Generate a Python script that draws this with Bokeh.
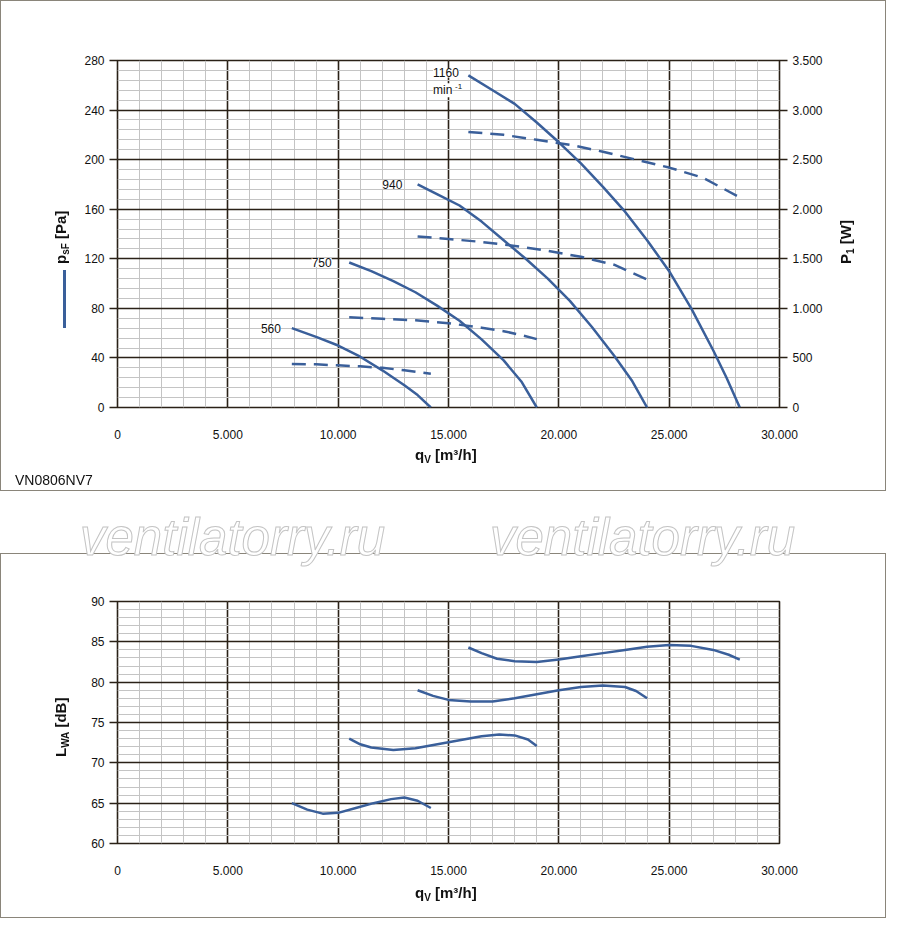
import numpy as np
from bokeh.plotting import figure
from bokeh.models import Range1d, LinearAxis, FixedTicker, Label, Div
from bokeh.layouts import column
from bokeh.embed import file_html
from bokeh.resources import INLINE

# ---- data ----
x_ticks = [0, 5000, 10000, 15000, 20000, 25000, 30000]
x_tick_labels = ["0", "5.000", "10.000", "15.000", "20.000", "25.000", "30.000"]
p_ticks = [0, 40, 80, 120, 160, 200, 240, 280]
w_ticks = [0, 500, 1000, 1500, 2000, 2500, 3000, 3500]
w_tick_labels = ["0", "500", "1.000", "1.500", "2.000", "2.500", "3.000", "3.500"]
db_ticks = [60, 65, 70, 75, 80, 85, 90]

speeds = ["560", "750", "940", "1160"]

p_q = {
    "560": [7900, 9000, 10000, 11000, 12000, 13000, 13600, 14200],
    "750": [10500, 11500, 12500, 13500, 14500, 15500, 16500, 17500, 18300, 19000],
    "940": [13600, 14500, 15500, 16500, 17500, 18500, 19500, 20500, 21500, 22500, 23300, 24000],
    "1160": [15900, 17000, 18000, 19000, 20000, 21000, 22000, 23000, 24000, 25000, 26000, 27000, 27600, 28200],
}
p_pa = {
    "560": [64, 57, 50, 41, 30, 18, 10, 0],
    "750": [117, 110, 102, 93, 82, 70, 55, 38, 21, 0],
    "940": [180, 172, 163, 150, 135, 120, 104, 86, 65, 42, 22, 0],
    "1160": [268, 256, 245, 230, 214, 197, 178, 158, 135, 110, 80, 46, 24, 0],
}
w_q = {
    "560": [7900, 9000, 10000, 11000, 12000, 13000, 14200],
    "750": [10500, 12000, 13500, 15000, 16500, 17500, 18300, 19000],
    "940": [13600, 15000, 16500, 18000, 19500, 21000, 22500, 24000],
    "1160": [15900, 17500, 19000, 20500, 22000, 23500, 25000, 26500, 28200],
}
w_w = {
    "560": [440, 435, 425, 415, 400, 375, 340],
    "750": [910, 895, 880, 850, 805, 770, 730, 690],
    "940": [1725, 1700, 1670, 1630, 1580, 1520, 1440, 1290],
    "1160": [2780, 2750, 2700, 2650, 2580, 2500, 2420, 2320, 2120],
}
db_q = {
    "560": [7900, 8600, 9300, 10000, 10800, 11600, 12400, 13000, 13600, 14200],
    "750": [10500, 11000, 11500, 12500, 13500, 14500, 15500, 16500, 17300, 18000, 18600, 19000],
    "940": [13600, 14300, 15000, 16000, 17000, 18000, 19000, 20000, 21000, 22000, 23000, 23500, 24000],
    "1160": [15900, 16500, 17200, 18000, 19000, 20000, 21000, 22000, 23000, 24000, 25000, 26000, 27000, 27700, 28200],
}
db_l = {
    "560": [65.0, 64.2, 63.7, 63.8, 64.4, 65.0, 65.5, 65.7, 65.3, 64.4],
    "750": [73.0, 72.3, 71.9, 71.6, 71.8, 72.3, 72.8, 73.3, 73.5, 73.4, 72.9, 72.1],
    "940": [79.0, 78.3, 77.8, 77.6, 77.6, 78.0, 78.5, 79.0, 79.4, 79.6, 79.4, 78.9, 78.0],
    "1160": [84.3, 83.6, 82.9, 82.6, 82.5, 82.8, 83.2, 83.6, 84.0, 84.4, 84.6, 84.5, 84.0, 83.4, 82.8],
}
label_pos = {"560": (6500, 64), "750": (8800, 117), "940": (12000, 180), "1160": (14300, 270)}

BLUE = "#3a5f9a"
MAJ = "#2a2117"
MIN = "#c4c4c4"
FONT = "Liberation Sans"


def style(p, yticks):
    p.xaxis.ticker = FixedTicker(ticks=x_ticks, minor_ticks=list(range(0, 30001, 1000)))
    p.xaxis.major_label_overrides = {t: l for t, l in zip(x_ticks, x_tick_labels)}
    p.yaxis[0].ticker = FixedTicker(ticks=yticks, minor_ticks=list(
        np.linspace(yticks[0], yticks[-1], (len(yticks) - 1) * 5 + 1)))
    for g in p.grid:
        g.grid_line_color = MAJ
        g.grid_line_width = 1.6
        g.minor_grid_line_color = MIN
        g.minor_grid_line_width = 1
    for a in p.axis:
        a.major_label_text_font = FONT
        a.major_label_text_font_size = "12px"
        a.major_label_text_color = "#111"
        a.axis_line_color = None
        a.minor_tick_line_color = None
        a.major_tick_line_color = MAJ
        a.major_tick_line_width = 1.5
        a.major_tick_out = 8
        a.major_tick_in = 0
    p.xaxis.major_tick_line_color = None
    p.xaxis.major_label_standoff = 14
    p.outline_line_color = MAJ
    p.outline_line_width = 1.6


# ---- top chart ----
p1 = figure(width=886, height=491, x_range=Range1d(0, 30000), y_range=Range1d(0, 280),
            output_backend="svg", toolbar_location=None,
            min_border_left=114, min_border_right=108, min_border_top=59, min_border_bottom=85)
p1.extra_y_ranges = {"w": Range1d(0, 3500)}
ax = LinearAxis(y_range_name="w", ticker=FixedTicker(ticks=w_ticks))
ax.major_label_overrides = {t: l for t, l in zip(w_ticks, w_tick_labels)}
p1.add_layout(ax, "right")
style(p1, p_ticks)

for s in speeds:
    p1.line(p_q[s], p_pa[s], line_color=BLUE, line_width=2.5)
    p1.line(w_q[s], w_w[s], y_range_name="w", line_color=BLUE, line_width=2.5, line_dash="14 8")
for s in speeds:
    x, y = label_pos[s]
    p1.add_layout(Label(x=x, y=y, text=s, text_font=FONT, text_font_size="12px",
                        text_color="#111", background_fill_color="white",
                        text_baseline="middle"))
p1.add_layout(Label(x=14300, y=256, text="min", text_font=FONT, text_font_size="12px",
                    text_color="#111", background_fill_color="white", text_baseline="middle"))
p1.add_layout(Label(x=14300, y=256, x_offset=22, y_offset=4, text="-1", text_font=FONT,
                    text_font_size="8px", text_color="#111", text_baseline="middle"))

spacer = Div(width=886, height=52)

# ---- bottom chart ----
p2 = figure(width=886, height=365, x_range=Range1d(0, 30000), y_range=Range1d(60, 90),
            output_backend="svg", toolbar_location=None,
            min_border_left=116, min_border_right=107, min_border_top=47, min_border_bottom=76)
style(p2, db_ticks)
for s in speeds:
    p2.line(db_q[s], db_l[s], line_color=BLUE, line_width=2.5)

box = {"border": "1px solid #8a857a"}
p1.styles = box
p2.styles = box

# ---- text overlay (axis titles, model name, watermark) ----
base = "position:fixed;font-family:'Liberation Sans';color:#111;white-space:nowrap;line-height:1;"
rot = "transform:rotate(-90deg);transform-origin:0 0;"
b15 = "font-weight:bold;font-size:15px;"
sub = "<sub style='font-size:10px;vertical-align:-3px'>{}</sub>"
wm = ("font-style:italic;font-size:51px;color:white;"
      "-webkit-text-stroke:1px #c4c4c4;")


def span(left, top, html, extra=""):
    return f"<span style=\"{base}left:{left}px;top:{top}px;{extra}\">{html}</span>"


qv = "q" + sub.format("V") + " [m³/h]"
overlay_html = "".join([
    span(80, 512, "ventilatorry.ru", wm),
    span(490, 512, "ventilatorry.ru", wm),
    span(53, 264, "p" + sub.format("sF") + " [Pa]", b15 + rot),
    f"<span style=\"position:fixed;left:63px;top:270px;width:3px;height:58px;background:{BLUE}\"></span>",
    span(838, 264, "P" + sub.format("1") + " [W]", b15 + rot),
    span(415, 447, qv, b15),
    span(15, 473, "VN0806NV7", "font-size:14px;"),
    span(53, 757, "L" + sub.format("WA") + " [dB]", b15 + rot),
    span(415, 885, qv, b15),
])
overlay = Div(width=10, height=1, text=overlay_html, styles={"overflow": "visible"})

lay = column(p1, spacer, p2, overlay, spacing=0)
open("out.html", "w").write(file_html(lay, INLINE))
